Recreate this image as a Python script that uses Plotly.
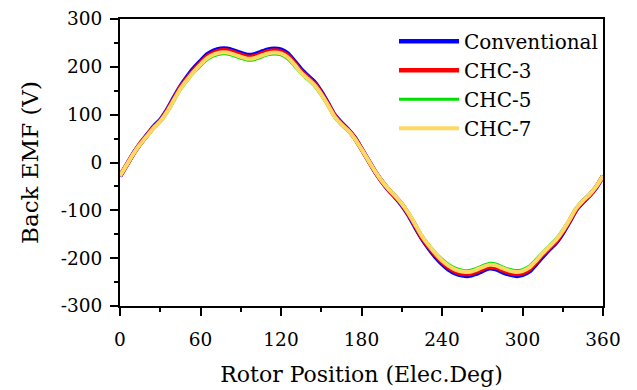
import plotly.graph_objects as go

angles = list(range(0, 361, 5))

conventional = [-29, -5, 19, 39, 57, 75, 89, 110, 135, 159, 179, 197, 212, 226, 234, 238, 238, 234, 229, 225,
                226, 231, 236, 238, 236, 228, 212, 195, 181, 168, 148, 124, 99, 83, 69, 52, 29, 5, -19, -39,
                -57, -72, -89, -110, -135, -159, -179, -197, -212, -224, -232, -236, -237, -233, -227, -221, -223, -229, -234, -237,
                -235, -228, -213, -197, -182, -168, -148, -124, -99, -83, -69, -52, -29]

chc3 = [-28, -5, 18, 39, 56, 73, 87, 108, 132, 157, 176, 193, 208, 222, 230, 234, 234, 230, 225, 221,
        222, 227, 232, 234, 232, 224, 208, 191, 178, 165, 145, 122, 98, 81, 68, 51, 28, 5, -18, -39,
        -56, -71, -87, -108, -132, -157, -176, -193, -208, -220, -228, -232, -233, -229, -223, -218, -219, -225, -230, -233,
        -231, -224, -209, -193, -179, -165, -145, -122, -98, -81, -68, -51, -28]

chc5 = [-27, -5, 18, 37, 54, 71, 85, 104, 128, 152, 171, 188, 202, 215, 223, 227, 227, 223, 218, 214,
        215, 220, 225, 227, 225, 217, 202, 186, 173, 160, 141, 119, 95, 79, 66, 49, 27, 5, -18, -37,
        -54, -69, -85, -104, -128, -152, -171, -188, -202, -213, -221, -225, -226, -222, -216, -211, -212, -218, -223, -226,
        -224, -217, -203, -188, -174, -160, -141, -119, -95, -79, -66, -49, -27]

chc7 = [-28, -5, 18, 38, 55, 72, 86, 106, 130, 154, 173, 190, 205, 218, 226, 230, 230, 226, 221, 217,
        218, 223, 228, 230, 228, 220, 205, 188, 175, 162, 143, 120, 96, 80, 67, 50, 28, 5, -18, -38,
        -55, -70, -86, -106, -130, -154, -173, -190, -205, -216, -224, -228, -229, -225, -219, -214, -215, -221, -226, -229,
        -227, -220, -206, -190, -176, -162, -143, -120, -96, -80, -67, -50, -28]

x_ticks = [0, 60, 120, 180, 240, 300, 360]
y_ticks = [-300, -200, -100, 0, 100, 200, 300]
y_tick_labels = ["-300", "-200", "-100", "0", "100", "200", "300"]

names = ["Conventional", "CHC-3", "CHC-5", "CHC-7"]
colors = ["#0000FF", "#FF0000", "#00E000", "#FFD966"]
widths = [4.5, 4.5, 3, 4]
series = [conventional, chc3, chc5, chc7]

fig = go.Figure()
for n, c, w, s in zip(names, colors, widths, series):
    fig.add_trace(go.Scatter(x=angles, y=s, mode="lines", name=n,
                             line=dict(color=c, width=w, shape="spline", smoothing=0.6)))

font = "DejaVu Serif"
axis_common = dict(showline=True, linecolor="black", linewidth=2, mirror=True,
                   ticks="outside", ticklen=8, tickwidth=2, tickcolor="black",
                   showgrid=False, zeroline=False, automargin=False,
                   tickfont=dict(family=font, size=18.5, color="black"))

fig.update_layout(
    width=637, height=390,
    margin=dict(l=120, r=34, t=19, b=84),
    paper_bgcolor="white", plot_bgcolor="white",
    font=dict(family=font, color="black"),
    xaxis=dict(range=[0, 360], tickvals=x_ticks, ticklabelstandoff=8,
               minor=dict(dtick=30, ticks="outside", ticklen=4, tickwidth=2, tickcolor="black"),
               title=dict(text="Rotor Position (Elec.Deg)", font=dict(family=font, size=22), standoff=17),
               **axis_common),
    yaxis=dict(range=[-300, 300], tickvals=y_ticks, ticktext=y_tick_labels, ticklabelstandoff=4,
               minor=dict(dtick=50, ticks="outside", ticklen=4, tickwidth=2, tickcolor="black"),
               title=dict(text="Back EMF (V)", font=dict(family=font, size=23), standoff=16),
               **axis_common),
    legend=dict(x=1.0, y=0.99, xanchor="right", yanchor="top",
                font=dict(family=font, size=20, color="black"),
                bgcolor="rgba(0,0,0,0)", borderwidth=0, itemwidth=60, tracegroupgap=0),
)

fig.write_html("out.html", config={"displayModeBar": False},
               post_script="document.body.style.margin='0';document.body.style.padding='0';")
